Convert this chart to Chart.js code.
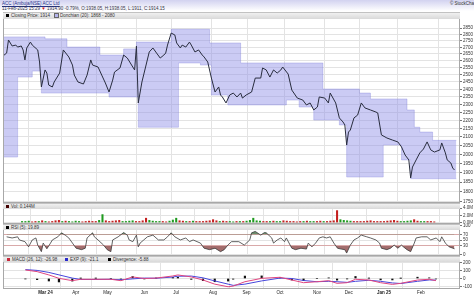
<!DOCTYPE html>
<html>
<head>
<meta charset="utf-8">
<title>ACC Ltd - daily</title>
<script src="https://cdn.jsdelivr.net/npm/chart.js@4.4.1/dist/chart.umd.min.js"></script>
<style>
  body { margin: 0; background: #fff; }
  #page { position: relative; width: 474px; height: 296px; overflow: hidden; background: #fff;
          font-family: "Liberation Sans", Arial, sans-serif; }
  #top { position: absolute; left: 0; top: 0; width: 474px; height: 11px; background: linear-gradient(#d2d2f0, #ffffff); }
  .hdr { position: absolute; font-size: 4.5px; line-height: 5px; white-space: nowrap; color: #24348a; }
  canvas { position: absolute; left: 0; }
  .band { position: absolute; left: 3px; width: 457px; box-sizing: border-box; z-index: 2;
          background: linear-gradient(#f0f0f0, #d9d9d9); border-top: 1px solid #c2c2c2;
          font-size: 4.5px; color: #333; white-space: nowrap; }
  .band .it { position: absolute; top: 0; }
  .band i { display: inline-block; width: 3px; height: 3px; margin-right: 2px; vertical-align: 0; }
</style>
</head>
<body>
<div id="page">
  <div id="top"></div>
  <div class="hdr" style="left:2px;top:0.5px"><u>ACC (Ambuja/NSE) ACC Ltd</u></div>
  <div class="hdr" style="left:2px;top:6px;color:#334">11-Feb-2025 15:29 <span style="color:#d01818">&#9660;</span> 1914.90 -0.79%, O:1938.05, H:1938.05, L:1911, C:1914.15</div>
  <div class="hdr" style="left:450px;top:1px;color:#333">&copy; StockCharts.com</div>

  <canvas id="cPrice" width="474" height="192" style="top:11px"></canvas>
  <canvas id="cVol" width="474" height="21" style="top:203px"></canvas>
  <canvas id="cRsi" width="474" height="32" style="top:224px"></canvas>
  <canvas id="cMacd" width="474" height="40" style="top:256px"></canvas>

  <div class="band" style="top:12px;height:7px;line-height:6px">
    <span class="it" style="left:3px"><i style="background:#000"></i>Closing Price: 1914</span>
    <span class="it" style="left:52px"><i style="background:#b4b4ec;outline:0.5px solid #666"></i>Donchian (20): 1868 - 2080</span>
  </div>
  <div class="band" style="top:203px;height:6px;line-height:5px">
    <span class="it" style="left:3px"><i style="background:#400"></i>Vol: 0.144M</span>
  </div>
  <div class="band" style="top:224px;height:6px;line-height:5px">
    <span class="it" style="left:3px"><i style="background:#000"></i>RSI (5): 19.89</span>
  </div>
  <div class="band" style="top:256px;height:6px;line-height:5px">
    <span class="it" style="left:4px"><i style="background:#c8283c"></i>MACD (26, 12): -26.98</span>
    <span class="it" style="left:62px"><i style="background:#2a2acc"></i>EXP (9): -21.1</span>
    <span class="it" style="left:105px"><i style="background:#000"></i>Divergence: -5.88</span>
  </div>
</div>

<script>
// trading-day index (0 = ~12 Feb 2024) and daily close
const priceDays = [0,2,3,5,7,8,10,11,12,13, 15,16,19,20,21,23,24,25,27,28,
  31,33,36,38,39,41,44,46,48,49, 52,54,56,58,60,61,64,66,68,71,
  72,73,74,76,78,80,82,84,86,88, 89,90,92,94,95,97,98,100,102,103,
  105,107,109,110,112,114,116,118,119,120, 122,124,126,128,130,131,133,136,138,141,
  142,144,146,148,150,152,153,156,158,161, 164,166,168,170,172,173,176,178,179,182,
  184,186,187,188,189,190,192,194,196,198, 201,204,205,207,210,213,216,218,220,222,
  223,224,226,228,230,232,234,236,239,240, 242,243,245,246,247];
const priceClose = [2635,2657,2756,2710,2717,2702,2710,2680,2606,2695, 2740,2717,2680,2591,2416,2534,2512,2429,2416,2450,
  2512,2680,2628,2569,2498,2450,2436,2498,2606,2569, 2555,2498,2443,2382,2463,2519,2548,2642,2620,2555,
  2534,2710,2310,2450,2555,2665,2695,2657,2620,2642, 2657,2717,2810,2795,2733,2695,2717,2702,2740,2717,
  2665,2680,2642,2628,2591,2477,2382,2416,2362,2349, 2310,2362,2375,2349,2375,2342,2362,2382,2477,2477,
  2548,2534,2484,2534,2512,2534,2555,2505,2395,2342, 2329,2297,2310,2265,2284,2349,2342,2310,2375,2310,
  2215,2190,2172,2053,2129,2141,2215,2233,2310,2278, 2265,2252,2246,2112,2094,2082,2071,2042,1996,1969,
  1872,1930,1969,2008,2030,2071,2025,2013,2025,2065, 2008,1969,1952,1925,1914];

// Donchian (20) channel, one value per step starting at dcDays[i]
const dcDays  = [0,8,16,21,23,35,53,58,66,73,74,92,96,108,113,114,123,130,155,162,170,175,184,188,195,201,208,218,221,223,225,228,235];
const dcUpper = [2780,2780,2780,2780,2765,2702,2642,2642,2688,2740,2740,2840,2840,2840,2733,2733,2733,2584,2584,2584,2584,2402,2402,2402,2375,2336,2336,2336,2265,2265,2158,2129,2080];
const dcLower = [1985,2484,2526,2375,2375,2375,2375,2349,2349,2349,2158,2158,2584,2569,2569,2362,2297,2297,2329,2284,2202,2202,2172,1877,1877,1877,2053,1969,1969,1868,1868,1868,1868];
const dcEnd = 248;

const priceTicks = [1750,1800,1850,1900,1950,2000,2050,2100,2150,2200,2250,2300,2350,2400,2450,2500,2550,2600,2650,2700,2750,2800,2850];
const monthDays = [14,32,51,73,92,114,134,154,176,195,216,238];
const monthLabels = ['Mar 24','Apr','May','Jun','Jul','Aug','Sep','Oct','Nov','Dec','Jan 25','Feb'];

// volume in millions, one bar every volStep trading days
const volStep = 2;
const volume = [0.3,0.3,0.4,0.2,0.3,0.3,0.5,0.3,0.2,0.3, 0.5,0.6,0.3,0.4,0.3,0.2,0.4,0.3,0.2,0.3,
  0.4,0.3,0.3,0.6,2.2,0.5,0.3,0.4,0.5,0.6, 0.3,0.3,0.4,0.5,0.3,0.3,0.5,1.2,0.6,0.4,
  0.3,0.3,0.3,0.2,0.4,0.7,1.2,0.5,0.4,0.3, 0.3,0.4,0.3,0.3,0.3,0.4,0.5,0.8,0.5,0.3,
  0.4,0.3,0.3,0.2,0.3,0.3,0.3,0.4,0.6,1.2, 0.5,0.4,0.3,0.3,0.3,0.4,0.3,0.3,0.5,0.4,
  0.3,0.3,0.2,0.3,0.3,0.4,0.3,0.3,0.3,0.4, 0.3,0.3,0.4,0.5,3.3,0.8,0.6,0.5,0.4,0.3,
  0.3,0.3,0.3,0.4,0.5,0.3,0.3,0.3,0.3,0.4, 0.5,0.6,0.4,0.3,0.3,0.4,0.5,0.8,0.4,0.3,
  0.3,0.3,0.3,0.2];
const volTicks = [0, 2, 4];

const rsiDays = [2,5,8,9,12,14,16,18,19,21, 22,24,26,27,30,32,34,36,38,40, 43,45,46,49,50,52,55,57,59,60,
  63,66,68,69,71,73,74,75,77,79, 82,85,88,90,92,94,97,100,102,104, 108,110,113,116,119,121,123,125,129,132,
  135,136,138,141,143,144,147,148,150,152, 154,155,158,160,163,166,167,169,171,173, 175,177,179,181,183,185,187,188,190,192,
  194,196,199,201,204,206,207,210,212,214, 216,218,219,221,223,225,226,229,232,234, 237,239,240,242,244,247];
const rsiValues = [62,58,62,51,45,27,51,58,33,10, 40,20,40,51,62,76,68,58,40,22, 17,22,58,76,62,51,33,17,10,51,
  62,77,68,51,45,68,27,40,51,62, 68,51,51,62,76,62,51,58,45,51, 40,22,17,22,10,17,33,45,45,33,
  51,76,81,68,77,76,58,40,51,58, 45,58,22,17,22,19,40,27,40,58, 62,58,62,40,22,19,17,5,33,51,
  58,68,62,58,51,40,22,17,22,33, 22,33,27,17,10,40,58,62,62,51, 58,45,62,40,27,20];
const rsiTicks = [0, 30, 50, 70, 100];

const macdDays   = [2,9,16,22,30,35,44,53,59,66, 73,80,90,93,101,108,115,123,126,133, 143,154,161,168,176,183,188,194,199,207, 214,221,226,236,243,247];
const macdLine   = [105,85,44,2,-27,-10,-10,-10,-27,19, 0,5,31,44,19,-19,-70,-102,-94,-40, 2,15,-19,-52,-40,-27,-60,-52,-10,-19, -52,-73,-60,-19,-10,-27];
const macdSignal = [110,100,75,45,5,-12,-12,-10,-16,-5, 5,3,18,28,30,8,-30,-70,-85,-70, -30,5,0,-25,-40,-35,-40,-48,-35,-22, -35,-55,-62,-35,-18,-21];
const macdHist   = [-5,-15,-31,-43,-32,2,2,0,-11,24, -5,2,13,16,-11,-27,-40,-32,-9,30, 32,10,-19,-27,0,8,-20,-4,25,3, -17,-18,2,16,8,-6];
const macdTicks = [-100, 0, 100, 200];

const DAY_MAX = 250;
const GRID = '#e3e3e3';

Chart.defaults.font.family = '"Liberation Sans", Arial, sans-serif';
Chart.defaults.font.size = 4.5;
Chart.defaults.color = '#333';

const pts = (xs, ys) => xs.map((d, i) => ({ x: d, y: ys[i] }));

function steps(vals) {
  const p = pts(dcDays, vals);
  p.push({ x: dcEnd, y: vals[vals.length - 1] });
  return p;
}

function closeAt(d) {
  for (let i = 1; i < priceDays.length; i++) {
    if (d <= priceDays[i]) {
      const t = (d - priceDays[i - 1]) / (priceDays[i] - priceDays[i - 1]);
      return priceClose[i - 1] + t * (priceClose[i] - priceClose[i - 1]);
    }
  }
  return priceClose[priceClose.length - 1];
}

const framePlugin = {
  id: 'frame',
  afterDatasetsDraw(chart) {
    const { ctx, chartArea: a } = chart;
    ctx.save();
    ctx.strokeStyle = '#a8a8a8';
    ctx.lineWidth = 1;
    ctx.strokeRect(a.left + 0.5, a.top + 0.5, a.right - a.left - 1, a.bottom - a.top - 1);
    ctx.restore();
  }
};

function xScale(showLabels) {
  return {
    type: 'linear', min: 0, max: DAY_MAX,
    afterBuildTicks: s => { s.ticks = monthDays.map(v => ({ value: v })); },
    afterFit: s => { s.paddingLeft = 0; s.paddingRight = 0; if (showLabels) s.height = 7; },
    grid: { color: GRID, drawTicks: false },
    border: { display: false },
    ticks: {
      display: showLabels, padding: 1, autoSkip: false, maxRotation: 0, color: '#222',
      font: ctx => ({ size: 4.5, weight: monthLabels[ctx.index] && monthLabels[ctx.index].includes(' ') ? 'bold' : 'normal' }),
      callback: (v, i) => monthLabels[i]
    }
  };
}

function yScale(opts, ticks, fmt, gridColor) {
  return Object.assign({
    position: 'right',
    afterBuildTicks: s => { s.ticks = ticks.map(v => ({ value: v })); },
    afterFit: s => { s.width = 14; s.paddingTop = 0; s.paddingBottom = 0; },
    grid: { color: gridColor || GRID, tickLength: 2, tickColor: '#777' },
    border: { display: false },
    ticks: { padding: 1, autoSkip: false, color: '#333', callback: fmt }
  }, opts);
}

const base = (pad) => ({
  responsive: false, animation: false, events: [],
  layout: { padding: Object.assign({ left: 3, right: 0, top: 0, bottom: 0 }, pad) },
  plugins: { legend: { display: false }, tooltip: { enabled: false } },
  elements: { point: { radius: 0 }, line: { tension: 0 } }
});

// price panel
new Chart(document.getElementById('cPrice'), {
  type: 'line',
  data: {
    datasets: [
      { data: pts(priceDays, priceClose), borderColor: '#282c3e', borderWidth: 1, fill: false },
      { data: steps(dcUpper), stepped: true, borderColor: 'rgba(110,110,210,0.5)', borderWidth: 0.6,
        fill: '+1', backgroundColor: 'rgba(140,140,230,0.45)' },
      { data: steps(dcLower), stepped: true, borderColor: 'rgba(110,110,210,0.5)', borderWidth: 0.6, fill: false }
    ]
  },
  options: Object.assign(base({ top: 1 }), {
    scales: {
      x: xScale(false),
      y: yScale({ type: 'logarithmic', min: 1745, max: 2981 }, priceTicks, v => String(v))
    }
  }),
  plugins: [framePlugin]
});

// volume panel
const volGreen = '#1f9a1f', volRed = '#c41f1f';
new Chart(document.getElementById('cVol'), {
  type: 'bar',
  data: {
    datasets: [{
      data: volume.map((v, i) => ({ x: i * volStep, y: v })),
      backgroundColor: volume.map((v, i) => {
        const d = i * volStep;
        return closeAt(d) >= closeAt(Math.max(0, d - volStep)) ? volGreen : volRed;
      }),
      barThickness: 1.4
    }]
  },
  options: Object.assign(base({}), {
    scales: {
      x: xScale(false),
      y: yScale({ type: 'linear', min: -0.4, max: 5.4 }, volTicks, v => v.toFixed(1) + 'M')
    }
  }),
  plugins: [framePlugin]
});

// RSI panel
const rsiPts = pts(rsiDays, rsiValues);
new Chart(document.getElementById('cRsi'), {
  type: 'line',
  data: {
    datasets: [
      { data: rsiPts, borderColor: '#3a3a3a', borderWidth: 0.8,
        fill: { target: { value: 70 }, above: 'rgba(70,112,70,0.8)', below: 'rgba(0,0,0,0)' } },
      { data: rsiPts, borderWidth: 0,
        fill: { target: { value: 30 }, above: 'rgba(0,0,0,0)', below: 'rgba(140,72,72,0.8)' } }
    ]
  },
  options: Object.assign(base({}), {
    scales: {
      x: xScale(false),
      y: yScale({ type: 'linear', min: -5.3, max: 107 }, rsiTicks, v => String(v),
        ctx => (ctx.tick && (ctx.tick.value === 30 || ctx.tick.value === 70)) ? '#d9a9a9' : GRID)
    }
  }),
  plugins: [framePlugin]
});

// MACD panel
new Chart(document.getElementById('cMacd'), {
  type: 'bar',
  data: {
    datasets: [
      { type: 'line', data: pts(macdDays, macdLine), borderColor: '#e0457f', borderWidth: 1, fill: false },
      { type: 'line', data: pts(macdDays, macdSignal), borderColor: '#4646dc', borderWidth: 1, fill: false },
      { type: 'bar', data: pts(macdDays, macdHist), backgroundColor: '#111', barThickness: 1.5 }
    ]
  },
  options: Object.assign(base({}), {
    scales: {
      x: xScale(true),
      y: yScale({ type: 'linear', min: -130, max: 278 }, macdTicks, v => String(v))
    }
  }),
  plugins: [framePlugin]
});
</script>
</body>
</html>
